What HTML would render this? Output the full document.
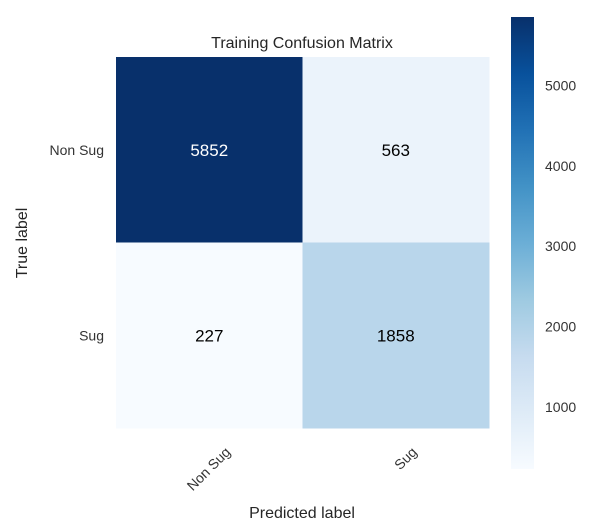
<!DOCTYPE html>
<html><head><meta charset="utf-8"><style>
html,body{margin:0;padding:0;background:#fff;width:597px;height:530px;overflow:hidden}
svg{display:block;font-family:"Liberation Sans",sans-serif}
</style></head><body>
<svg id="chart" width="597" height="530">
<defs><linearGradient id="blues" x1="0" y1="1" x2="0" y2="0">
<stop offset="0" stop-color="#f7fbff"/><stop offset="0.125" stop-color="#deebf7"/><stop offset="0.25" stop-color="#c6dbef"/><stop offset="0.375" stop-color="#9ecae1"/><stop offset="0.5" stop-color="#6baed6"/><stop offset="0.625" stop-color="#4292c6"/><stop offset="0.75" stop-color="#2171b5"/><stop offset="0.875" stop-color="#08519c"/><stop offset="1" stop-color="#08306b"/>
</linearGradient></defs>
<text x="302" y="48" font-size="16" fill="#262626" text-anchor="middle">Training Confusion Matrix</text>
<text x="302" y="518" font-size="16" fill="#262626" text-anchor="middle">Predicted label</text>
<text transform="translate(27,243) rotate(-90)" font-size="16" fill="#262626" text-anchor="middle">True label</text>
<rect x="511" y="17" width="23" height="452" fill="url(#blues)"/>
</svg>
<script>
const classes=["Non Sug","Sug"];
const values=[[5852,563],[227,1858]];
const cbTicks=[1000,2000,3000,4000,5000];
const stops=["#f7fbff","#deebf7","#c6dbef","#9ecae1","#6baed6","#4292c6","#2171b5","#08519c","#08306b"];
const NS="http://www.w3.org/2000/svg";
const svg=document.getElementById('chart');
const flat=values.flat();
const vmin=Math.min(...flat),vmax=Math.max(...flat);
const X0=116,X1=489,Y0=57,Y1=428;
const cw=(X1-X0)/classes.length,ch=(Y1-Y0)/classes.length;
const cbY=v=>469-(v-vmin)/(vmax-vmin)*452;
function hex(h){return [1,3,5].map(i=>parseInt(h.substr(i,2),16));}
function color(v){let t=(v-vmin)/(vmax-vmin)*(stops.length-1);let i=Math.min(Math.floor(t),stops.length-2);let f=t-i;
const a=hex(stops[i]),b=hex(stops[i+1]);return "rgb("+a.map((c,k)=>Math.round(c+(b[k]-c)*f)).join(",")+")";}
function mk(tag,attrs,txt){const e=document.createElementNS(NS,tag);for(const k in attrs)e.setAttribute(k,attrs[k]);if(txt!==undefined)e.textContent=txt;svg.appendChild(e);return e;}
const thresh=(vmax+vmin)/2;
values.forEach((row,r)=>row.forEach((v,c)=>{
 const rect=mk('rect',{x:X0+c*cw,y:Y0+r*ch,width:cw+0.5,height:ch+0.5,fill:color(v)});
 
 
 const t=mk('text',{x:X0+(c+0.5)*cw,y:Y0+(r+0.5)*ch+6,'font-size':17,'text-anchor':'middle',fill:v>thresh?'#fff':'#000'},v);
 
 
}));
classes.forEach((n,i)=>{
 const y=mk('text',{x:104,y:Y0+(i+0.5)*ch+5,'font-size':14,'text-anchor':'end',fill:'#333'},n);
 
 
 const cx=X0+(i+0.5)*cw;
 const x=mk('text',{transform:'translate('+(cx+22)+',453) rotate(-45)','font-size':14,'text-anchor':'end',fill:'#333'},n);
 
 
});
cbTicks.forEach(v=>{
 const t=mk('text',{x:545,y:cbY(v)+5,'font-size':14,fill:'#333'},v);
 
 
});
</script>
</body></html>
